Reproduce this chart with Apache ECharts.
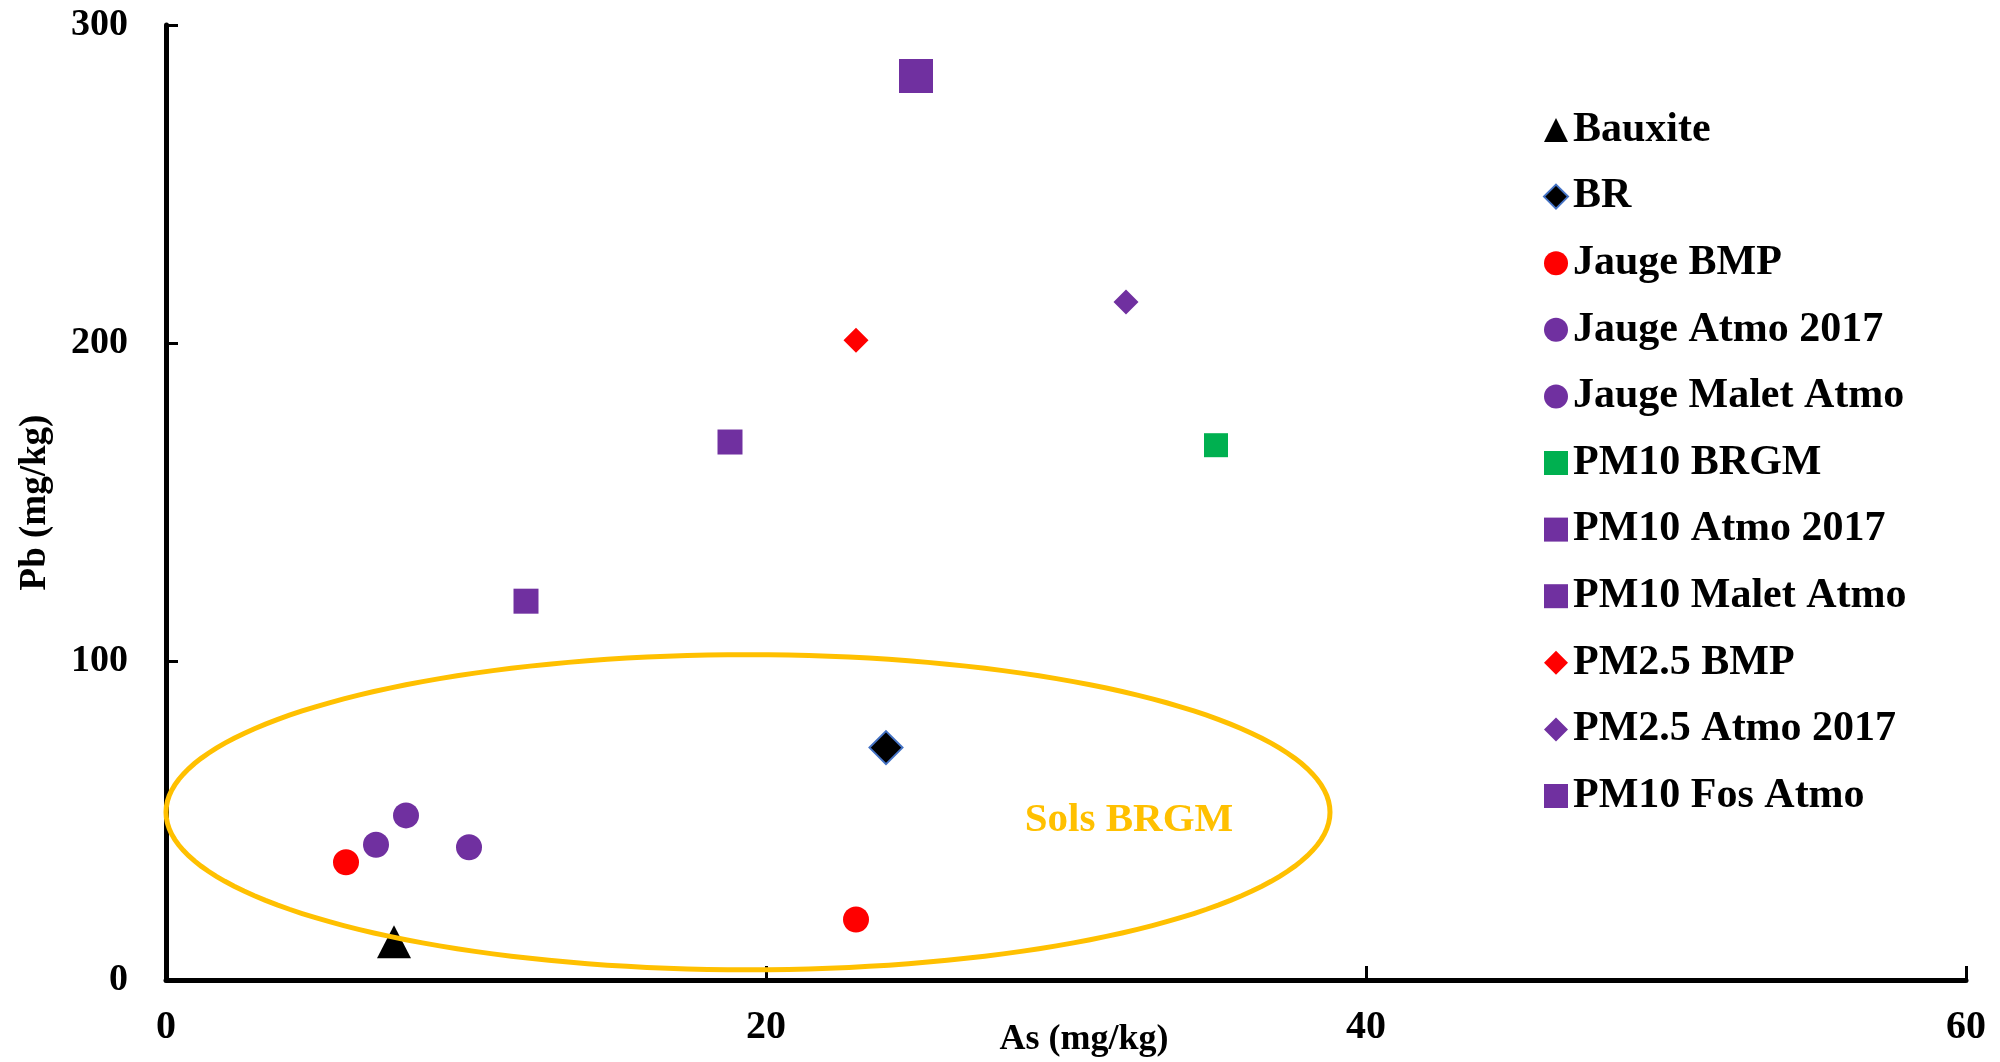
<!DOCTYPE html>
<html><head><meta charset="utf-8">
<script src="https://cdn.jsdelivr.net/npm/echarts@6/dist/echarts.min.js"></script>
<style>html,body{margin:0;padding:0;background:#fff}#c{width:2000px;height:1062px}</style>
</head><body><div id="c"></div>
<script>
const xTicks = [0, 20, 40, 60];
const yTicks = [0, 100, 200, 300];
const bauxite = [[7.6, 12]];
const br = [[24.0, 73]];
const jaugeBMP = [[6.0, 37], [23.0, 19]];
const jaugeAtmo2017 = [[7.0, 42.5], [10.1, 41.7]];
const jaugeMaletAtmo = [[8.0, 51.7]];
const pm10BRGM = [[35.0, 168]];
const pm10Atmo2017 = [[18.8, 169]];
const pm10MaletAtmo = [[12.0, 119]];
const pm25BMP = [[23.0, 201]];
const pm25Atmo2017 = [[32.0, 213]];
const pm10FosAtmo = [[25.0, 284]];
// annotation ellipse: center x, center y, radius x, radius y (axis units)
const solsEllipse = [[19.4, 52.7, 19.4, 49.5]];
const solsLabel = [[32.1, 50, 'Sols BRGM']];

const PURPLE = '#7030A0', RED = '#FF0000', GREEN = '#00B050', ORANGE = '#FFC000';
const FONT = '"Liberation Serif", "Times New Roman", serif';

function sc(name, data, symbol, size, color, style) {
  return {
    name, type: 'scatter', data, symbol, symbolSize: size,
    itemStyle: Object.assign({ color, opacity: 1 }, style || {}), z: 3
  };
}

const chart = echarts.init(document.getElementById('c'), null, { renderer: 'canvas' });
chart.setOption({
  animation: false,
  backgroundColor: '#fff',
  grid: { left: 166, right: 34, top: 25, bottom: 82, containLabel: false, outerBoundsMode: 'none' },
  xAxis: {
    type: 'value', min: xTicks[0], max: xTicks[xTicks.length - 1], interval: 20,
    name: 'As (mg/kg)', nameLocation: 'middle', nameGap: 42, nameMoveOverlap: false,
    nameTextStyle: { fontFamily: FONT, fontWeight: 'bold', fontSize: 36, color: '#000', padding: [0, 0, 0, 36] },
    axisLine: { lineStyle: { color: '#000', width: 5 } },
    axisTick: { inside: true, length: 14, lineStyle: { color: '#000', width: 3 } },
    axisLabel: { margin: 28, fontFamily: FONT, fontWeight: 'bold', fontSize: 40, color: '#000' },
    splitLine: { show: false }
  },
  yAxis: {
    type: 'value', min: yTicks[0], max: yTicks[yTicks.length - 1], interval: 100,
    name: 'Pb (mg/kg)', nameLocation: 'middle', nameGap: 112, nameMoveOverlap: false,
    nameTextStyle: { fontFamily: FONT, fontWeight: 'bold', fontSize: 37, color: '#000' },
    axisLine: { lineStyle: { color: '#000', width: 5 } },
    axisTick: { inside: true, length: 12, lineStyle: { color: '#000', width: 3 } },
    axisLabel: { margin: 38, fontFamily: FONT, fontWeight: 'bold', fontSize: 38, color: '#000' },
    splitLine: { show: false }
  },
  legend: {
    orient: 'vertical', left: 1538, top: 104,
    itemWidth: 24, itemHeight: 24, itemGap: 24.6,
    textStyle: { fontFamily: FONT, fontWeight: 'bold', fontSize: 42, color: '#000', lineHeight: 42 },
    data: [
      { name: 'Bauxite', icon: 'triangle' },
      { name: 'BR', icon: 'diamond' },
      { name: 'Jauge BMP', icon: 'circle' },
      { name: 'Jauge Atmo 2017', icon: 'circle' },
      { name: 'Jauge Malet Atmo', icon: 'circle' },
      { name: 'PM10 BRGM', icon: 'rect' },
      { name: 'PM10 Atmo 2017', icon: 'rect' },
      { name: 'PM10 Malet Atmo', icon: 'rect' },
      { name: 'PM2.5 BMP', icon: 'diamond' },
      { name: 'PM2.5 Atmo 2017', icon: 'diamond' },
      { name: 'PM10 Fos Atmo', icon: 'rect' }
    ]
  },
  series: [
    sc('Bauxite', bauxite, 'triangle', [34, 33], '#000'),
    sc('BR', br, 'diamond', [33, 33], '#000', { borderColor: '#4472C4', borderWidth: 2 }),
    sc('Jauge BMP', jaugeBMP, 'circle', 26, RED),
    sc('Jauge Atmo 2017', jaugeAtmo2017, 'circle', 26, PURPLE),
    sc('Jauge Malet Atmo', jaugeMaletAtmo, 'circle', 26, PURPLE),
    sc('PM10 BRGM', pm10BRGM, 'rect', 24, GREEN),
    sc('PM10 Atmo 2017', pm10Atmo2017, 'rect', 25, PURPLE),
    sc('PM10 Malet Atmo', pm10MaletAtmo, 'rect', 25, PURPLE),
    sc('PM2.5 BMP', pm25BMP, 'diamond', [25, 25], RED),
    sc('PM2.5 Atmo 2017', pm25Atmo2017, 'diamond', [25, 25], PURPLE),
    sc('PM10 Fos Atmo', pm10FosAtmo, 'rect', 34, PURPLE),
    {
      type: 'custom', name: 'ellipse', data: solsEllipse, z: 5, silent: true, clip: false,
      renderItem: function (params, api) {
        const c = api.coord([api.value(0), api.value(1)]);
        const s = api.size([api.value(2), api.value(3)]);
        const pts = [];
        for (let i = 0; i < 180; i++) {
          const t = i / 180 * Math.PI * 2;
          pts.push([c[0] + s[0] * Math.cos(t), c[1] + s[1] * Math.sin(t)]);
        }
        return { type: 'polygon', shape: { points: pts }, style: { fill: null, stroke: ORANGE, lineWidth: 5 } };
      }
    },
    {
      type: 'custom', name: 'label', data: solsLabel, z: 6, silent: true, clip: false,
      renderItem: function (params, api) {
        const c = api.coord([api.value(0), api.value(1)]);
        return { type: 'text', x: c[0], y: c[1], style: {
          text: solsLabel[params.dataIndex][2], fill: ORANGE, align: 'center', verticalAlign: 'middle',
          font: 'bold 41px ' + FONT } };
      }
    }
  ]
});
</script></body></html>
